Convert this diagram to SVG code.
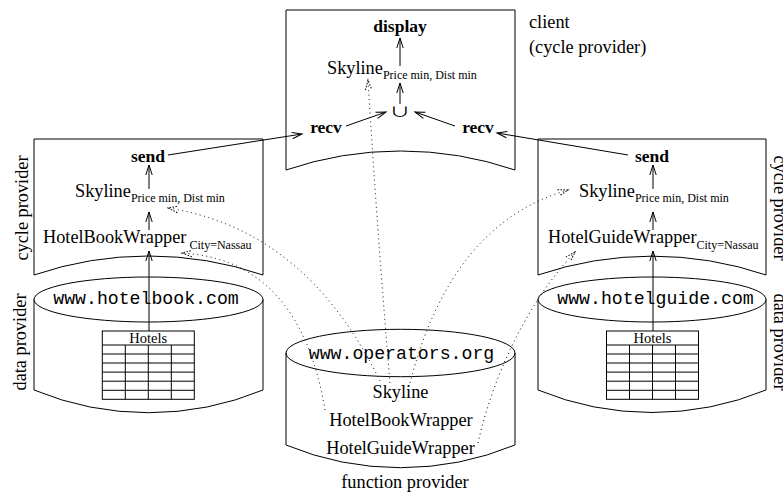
<svg xmlns="http://www.w3.org/2000/svg" width="783" height="496" viewBox="0 0 783 496">
  <defs>
    <style>
      .shape{fill:none;stroke:#000;stroke-width:1}
      .grid{fill:none;stroke:#000;stroke-width:1}
      .t{font-family:"Liberation Serif","Times New Roman",serif;font-size:18.3px;fill:#000}
      .b{font-weight:bold;font-size:17.5px}
      .sub{font-size:12px}
      .small{font-size:14.5px}
      .mono{font-family:"Liberation Mono","Courier New",monospace;font-size:18.2px;fill:#000}
      .m{text-anchor:middle}
      .flow{fill:none;stroke:#000;stroke-width:1;marker-end:url(#stick)}
      .dot{fill:none;stroke:#000;stroke-width:1;stroke-dasharray:1 3.5;marker-end:url(#dstick)}
    </style>
    <marker id="stick" markerUnits="userSpaceOnUse" markerWidth="14" markerHeight="10" viewBox="-12 -5 14 10" refX="0" refY="0" orient="auto">
      <path d="M-10,-3.2 L0,0 L-10,3.2" fill="none" stroke="#000" stroke-width="1"/>
    </marker>
    <marker id="dstick" markerUnits="userSpaceOnUse" markerWidth="14" markerHeight="10" viewBox="-12 -5 14 10" refX="0" refY="0" orient="auto">
      <path d="M-10,-3.2 L0,0 L-10,3.2" fill="none" stroke="#000" stroke-width="1" stroke-dasharray="1.5 1.5"/>
    </marker>
  </defs>

  <rect x="0" y="0" width="783" height="496" fill="#fff"/>

  <!-- client (cycle provider) -->
  <g id="client">
    <path class="shape" d="M286,170 V10 H515 V170 A354.5,354.5 0 0 0 286,170 Z"/>
    <text class="t b m" x="400" y="32">display</text>
    <text class="t" x="327" y="74">Skyline<tspan class="sub" dy="5">Price min, Dist min</tspan></text>
    <text text-anchor="middle" font-family="Noto Sans CJK JP, DejaVu Sans, sans-serif" font-size="16" transform="translate(400,116) scale(1.3,0.8)">∪</text>
    <text class="t b m" x="326" y="133">recv</text>
    <text class="t b m" x="478" y="133">recv</text>
    <text class="t" x="529" y="28">client</text>
    <text class="t" x="529" y="53">(cycle provider)</text>
  </g>

  <!-- left cycle provider -->
  <g id="cycle-book">
    <path class="shape" d="M34,275 V139 H263 V275 A354.5,354.5 0 0 0 34,275 Z"/>
    <text class="t b m" x="148" y="162">send</text>
    <text class="t" x="75" y="197">Skyline<tspan class="sub" dy="5">Price min, Dist min</tspan></text>
    <text class="t" x="43" y="243">HotelBookWrapper<tspan class="sub" dx="3" dy="6">City=Nassau</tspan></text>
    <text class="t m" transform="translate(28,208) rotate(-90)">cycle provider</text>
  </g>

  <!-- right cycle provider -->
  <g id="cycle-guide">
    <path class="shape" d="M538,275 V139 H766 V275 A354.5,354.5 0 0 0 538,275 Z"/>
    <text class="t b m" x="652" y="162">send</text>
    <text class="t" x="579" y="197">Skyline<tspan class="sub" dy="5">Price min, Dist min</tspan></text>
    <text class="t" x="548" y="243">HotelGuideWrapper<tspan class="sub" dy="6">City=Nassau</tspan></text>
    <text class="t m" transform="translate(774,208) rotate(90)">cycle provider</text>
  </g>

  <!-- left data provider -->
  <g id="data-book">
    <path class="shape" d="M34,299.5 V390 A300,300 0 0 0 263,390 V299.5"/>
    <ellipse class="shape" cx="148.5" cy="299.5" rx="114.5" ry="22.5"/>
    <text class="mono m" x="146" y="304">www.hotelbook.com</text>
    <g class="grid">
      <rect x="102.3" y="331" width="92" height="68.3"/>
      <path d="M102.3,345 H194.3 M102.3,354 H194.3 M102.3,363 H194.3 M102.3,372.1 H194.3 M102.3,381.2 H194.3 M102.3,390.3 H194.3 M125.3,345 V399.3 M148.3,345 V399.3 M171.3,345 V399.3"/>
    </g>
    <text class="t small m" x="148.3" y="343">Hotels</text>
    <text class="t m" transform="translate(26,342) rotate(-90)">data provider</text>
  </g>

  <!-- right data provider -->
  <g id="data-guide">
    <path class="shape" d="M538,299.5 V390 A300,300 0 0 0 766,390 V299.5"/>
    <ellipse class="shape" cx="652" cy="299.5" rx="114" ry="22.5"/>
    <text class="mono m" x="655.5" y="304">www.hotelguide.com</text>
    <g class="grid">
      <rect x="606.5" y="331" width="92" height="68.3"/>
      <path d="M606.5,345 H698.5 M606.5,354 H698.5 M606.5,363 H698.5 M606.5,372.1 H698.5 M606.5,381.2 H698.5 M606.5,390.3 H698.5 M629.5,345 V399.3 M652.5,345 V399.3 M675.5,345 V399.3"/>
    </g>
    <text class="t small m" x="652.5" y="343">Hotels</text>
    <text class="t m" transform="translate(774,342) rotate(90)">data provider</text>
  </g>

  <!-- function provider -->
  <g id="function-provider">
    <path class="shape" d="M286,353 V445 A300,300 0 0 0 515,445 V353"/>
    <ellipse class="shape" cx="400.5" cy="353" rx="114.5" ry="23.7"/>
    <text class="mono m" x="401.5" y="359">www.operators.org</text>
    <text class="t m" x="400.5" y="398">Skyline</text>
    <text class="t m" x="401" y="426">HotelBookWrapper</text>
    <text class="t m" x="400.5" y="454">HotelGuideWrapper</text>
    <text class="t m" x="405" y="488">function provider</text>
  </g>

  <!-- connectors -->
  <g id="connectors">
    <path class="flow" d="M400,104 V83"/>
    <path class="flow" d="M400,66 V38"/>
    <path class="flow" d="M346,126 L386,112"/>
    <path class="flow" d="M455,126 L415,112"/>
    <path class="flow" d="M168,155 L302,134"/>
    <path class="flow" d="M628,155 L497,133"/>
    <path class="flow" d="M149,189 V165"/>
    <path class="flow" d="M149,230 V212"/>
    <path class="flow" d="M149,331 V251"/>
    <path class="flow" d="M653,189 V165"/>
    <path class="flow" d="M653,230 V212"/>
    <path class="flow" d="M653,331 V251"/>
    <path class="dot" d="M380,381 Q306,229.5 168,208"/>
    <path class="dot" d="M325,410 Q300,260 182,253"/>
    <path class="dot" d="M390,383 Q377,228.5 368,80"/>
    <path class="dot" d="M410,383 Q451,223.5 568,190"/>
    <path class="dot" d="M478,443 C492,380 525,305 575,252"/>
  </g>
</svg>
